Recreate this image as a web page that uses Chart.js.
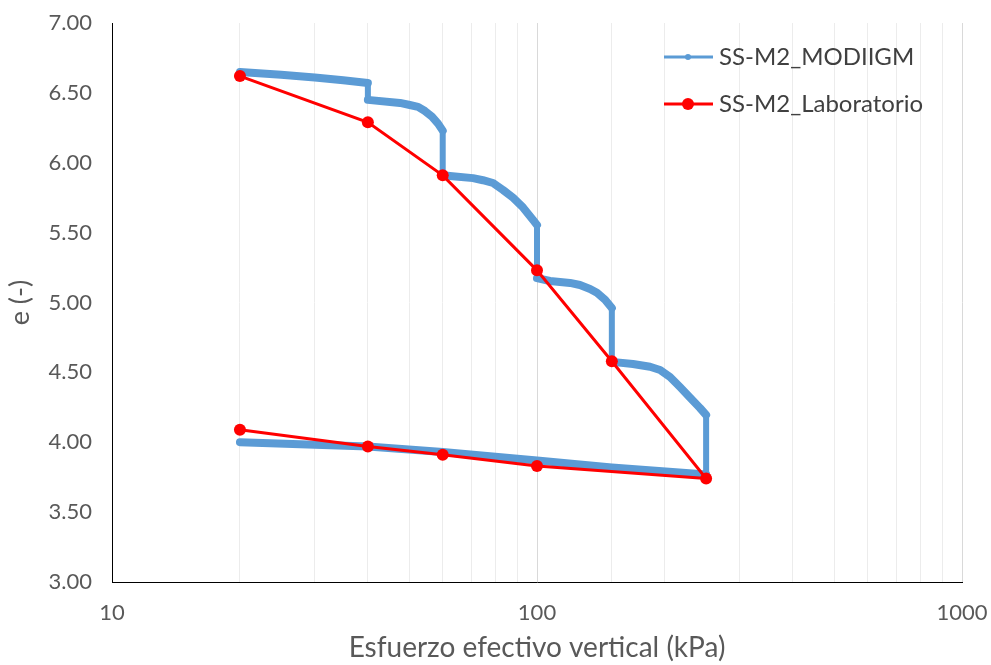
<!DOCTYPE html>
<html>
<head>
<meta charset="utf-8">
<script src="https://cdn.jsdelivr.net/npm/chart.js@4/dist/chart.umd.min.js"></script>
<style>
  html, body { margin: 0; padding: 0; background: #fff; }
  #wrap { width: 991px; height: 665px; }
</style>
</head>
<body>
<div id="wrap"><canvas id="oedoChart" width="991" height="665"></canvas></div>
<script>
// Curva de consolidacion: relacion de vacios vs esfuerzo efectivo vertical
const modStress = [20, 25, 30, 35, 40, 40, 40, 40,
  47.6, 50.2, 52.5, 54.5, 56.6, 58.5, 60, 60, 60, 60, 60,
  62.4, 70.7, 74.6, 78.8, 83.2, 87.8, 92.7, 97.9, 100, 100, 100, 100, 100,
  107.3, 119.6, 126.2, 133.3, 138.4, 144.6, 150, 150, 150, 150,
  168.2, 184.5, 194.8, 205.6, 217, 229, 241.8, 250, 250, 250, 250,
  150, 100, 60, 40, 20];
const modVoid = [6.65, 6.63, 6.61, 6.59, 6.57, 6.52, 6.47, 6.45,
  6.428, 6.413, 6.40, 6.37, 6.33, 6.28, 6.23, 6.15, 6.05, 5.95, 5.91,
  5.905, 5.89, 5.875, 5.855, 5.805, 5.75, 5.68, 5.59, 5.555, 5.45, 5.35, 5.22, 5.175,
  5.154, 5.14, 5.125, 5.097, 5.07, 5.02, 4.96, 4.85, 4.72, 4.575,
  4.56, 4.54, 4.517, 4.467, 4.395, 4.32, 4.245, 4.195, 4.05, 3.92, 3.77,
  3.82, 3.87, 3.93, 3.97, 4.00];

const labStress = [20, 40, 60, 100, 150, 250, 100, 60, 40, 20];
const labVoid = [6.62, 6.29, 5.91, 5.23, 4.58, 3.74, 3.83, 3.91, 3.97, 4.09];

const seriesNames = ['SS-M2_MODIIGM', 'SS-M2_Laboratorio'];
const yTicks = { min: 3, max: 7, step: 0.5 };
const xRange = { min: 10, max: 1000 };

const BLUE = '#5b9bd5';
const RED = '#ff0000';
const FONT = 'Lato, "DejaVu Sans", sans-serif';

function toPoints(xs, ys) {
  return xs.map((x, i) => ({ x: x, y: ys[i] }));
}

// leyenda dibujada a mano: linea + marcador como en Excel
const excelLegend = {
  id: 'excelLegend',
  afterDraw(chart) {
    const ctx = chart.ctx;
    const items = [
      { text: seriesNames[0], color: BLUE, r: 3, y: 57 },
      { text: seriesNames[1], color: RED, r: 6, y: 104 }
    ];
    ctx.save();
    items.forEach(it => {
      ctx.strokeStyle = it.color;
      ctx.lineWidth = 3;
      ctx.beginPath();
      ctx.moveTo(664, it.y);
      ctx.lineTo(713, it.y);
      ctx.stroke();
      ctx.fillStyle = it.color;
      ctx.beginPath();
      ctx.arc(688, it.y, it.r, 0, Math.PI * 2);
      ctx.fill();
      ctx.fillStyle = '#404040';
      ctx.font = '24px ' + FONT;
      ctx.textBaseline = 'middle';
      ctx.textAlign = 'left';
      ctx.fillText(it.text, 719, it.y);
    });
    ctx.restore();
  }
};

const ctx = document.getElementById('oedoChart').getContext('2d');
new Chart(ctx, {
  type: 'line',
  data: {
    datasets: [
      {
        label: seriesNames[1],
        data: toPoints(labStress, labVoid),
        borderColor: RED,
        backgroundColor: RED,
        borderWidth: 3,
        pointRadius: 6,
        pointBackgroundColor: RED,
        pointBorderWidth: 0,
        tension: 0,
        order: 0
      },
      {
        label: seriesNames[0],
        data: toPoints(modStress, modVoid),
        borderColor: BLUE,
        backgroundColor: BLUE,
        borderWidth: 8,
        borderJoinStyle: 'round',
        borderCapStyle: 'round',
        pointRadius: 0,
        tension: 0,
        segment: {
          // tramos verticales (carga instantanea) algo mas delgados
          borderWidth: s => (s.p0.parsed.x === s.p1.parsed.x ? 6 : 8)
        },
        order: 1
      }
    ]
  },
  options: {
    responsive: false,
    animation: false,
    layout: { padding: { top: 23, right: 29, left: 0, bottom: 0 } },
    plugins: {
      legend: { display: false },
      tooltip: { enabled: false }
    },
    scales: {
      x: {
        type: 'logarithmic',
        min: xRange.min,
        max: xRange.max,
        afterFit(scale) {
          scale.height = 83;
          scale.paddingLeft = 0;
          scale.paddingRight = 0;
        },
        grid: {
          drawTicks: false,
          color: function(c) {
            const v = c.tick ? c.tick.value : 0;
            return Math.abs(Math.log10(v) % 1) < 1e-6 ? '#d9d9d9' : '#ececec';
          },
          lineWidth: 1
        },
        border: { display: true, color: '#000', width: 1 },
        ticks: {
          autoSkip: false,
          maxRotation: 0,
          padding: 18,
          color: '#595959',
          font: { family: FONT, size: 22 },
          callback: function(value) {
            const l = Math.log10(value);
            return Math.abs(l - Math.round(l)) < 1e-6 ? String(Math.round(value)) : '';
          }
        },
        title: {
          display: true,
          text: 'Esfuerzo efectivo vertical (kPa)',
          color: '#595959',
          font: { family: FONT, size: 28 },
          padding: { top: 0, bottom: 0 }
        }
      },
      y: {
        type: 'linear',
        min: yTicks.min,
        max: yTicks.max,
        afterFit(scale) {
          scale.width = 112;
          scale.paddingTop = 0;
          scale.paddingBottom = 0;
        },
        grid: { drawTicks: false, color: 'rgba(0,0,0,0)' },
        border: { display: true, color: '#000', width: 1 },
        ticks: {
          stepSize: yTicks.step,
          padding: 20,
          color: '#595959',
          font: { family: FONT, size: 22 },
          callback: v => Number(v).toFixed(2)
        },
        title: {
          display: true,
          text: 'e (-)',
          color: '#595959',
          font: { family: FONT, size: 27 },
          padding: { top: 4, bottom: 0 }
        }
      }
    }
  },
  plugins: [excelLegend]
});
</script>
</body>
</html>
